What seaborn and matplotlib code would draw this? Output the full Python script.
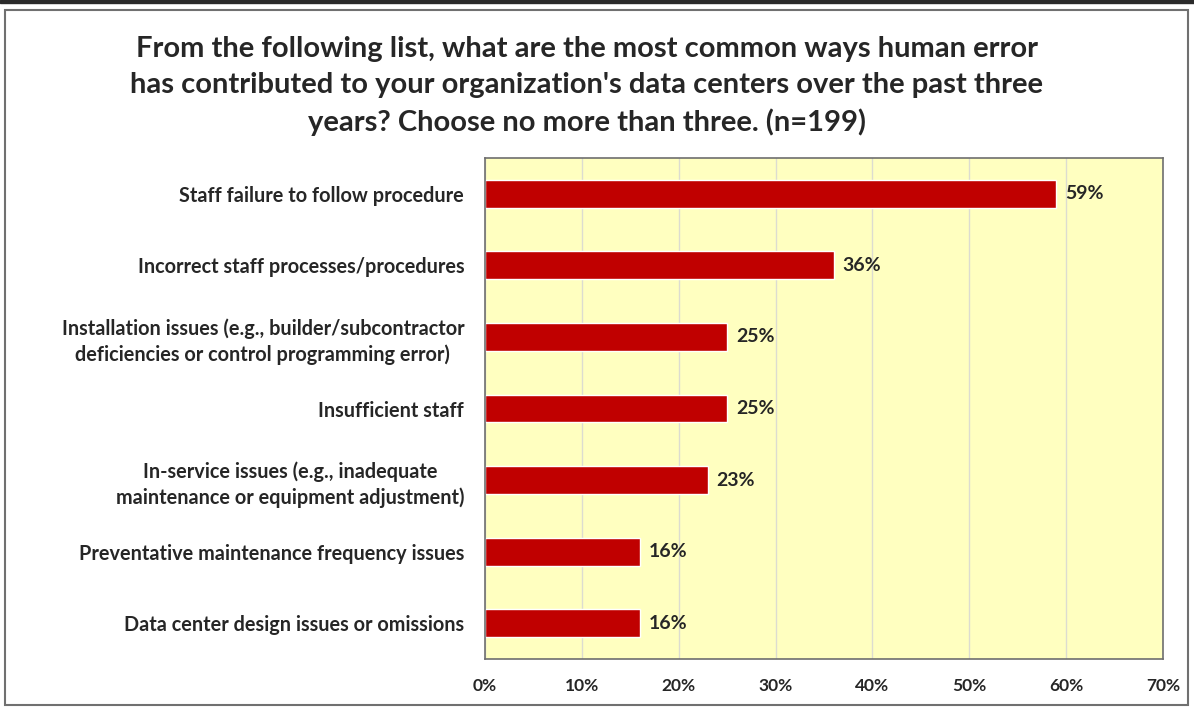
import seaborn as sns
import matplotlib.pyplot as plt
import pandas as pd
from matplotlib.patches import Rectangle

categories = [
    "Staff failure to follow procedure",
    "Incorrect staff processes/procedures",
    "Installation issues (e.g., builder/subcontractor\ndeficiencies or control programming error)",
    "Insufficient staff",
    "In-service issues (e.g., inadequate\nmaintenance or equipment adjustment)",
    "Preventative maintenance frequency issues",
    "Data center design issues or omissions",
]
values = [59, 36, 25, 25, 23, 16, 16]
ticks = [0, 10, 20, 30, 40, 50, 60, 70]

df = pd.DataFrame({"cause": categories, "pct": values})

sns.set_style("white")
plt.rcParams["font.family"] = ["Lato", "DejaVu Sans"]

fig = plt.figure(figsize=(11.94, 7.11), dpi=100)
ax = fig.add_axes([485 / 1194, 1 - 659 / 711, (1163 - 485) / 1194, (659 - 158) / 711])

sns.barplot(data=df, x="pct", y="cause", color="#c00000", saturation=1,
            width=0.39, ax=ax, orient="h")

ax.set_facecolor("#ffffc0")
ax.set_xlim(0, 70)
ax.set_ylim(6.5, -0.5)
ax.set_xticks(ticks)
ax.set_xticklabels([f"{t}%" for t in ticks], fontsize=12.5, fontweight="bold")
ax.set_yticks(range(len(categories)))
ax.set_yticklabels(categories, fontsize=14.3, fontweight="bold",
                   multialignment="center", linespacing=1.35)
ax.tick_params(axis="x", length=0, pad=14)
ax.tick_params(axis="y", length=0, pad=15)
ax.set_xlabel("")
ax.set_ylabel("")
ax.grid(axis="x", color="#dcdcd0", linewidth=1)
ax.set_axisbelow(True)
for s in ax.spines.values():
    s.set_visible(True)
    s.set_color("#6e6e6e")
    s.set_linewidth(1.2)

for i, v in enumerate(values):
    ax.text(v + 0.9, i, f"{v}%", va="center", ha="left",
            fontsize=14, fontweight="bold")

fig.text(587 / 1194, 1 - 86 / 711,
         "From the following list, what are the most common ways human error\n"
         "has contributed to your organization's data centers over the past three\n"
         "years? Choose no more than three. (n=199)",
         ha="center", va="center", fontsize=21, fontweight="bold",
         linespacing=1.45)

fig.patches.append(Rectangle((5 / 1194, 1 - 705 / 711), 1183 / 1194, 695 / 711,
                             transform=fig.transFigure, fill=False,
                             edgecolor="#707070", linewidth=1.5))
fig.patches.append(Rectangle((0, 1 - 3 / 711), 1, 3 / 711,
                             transform=fig.transFigure, color="#2a2a2a"))

fig.savefig("out.png", dpi=100)
